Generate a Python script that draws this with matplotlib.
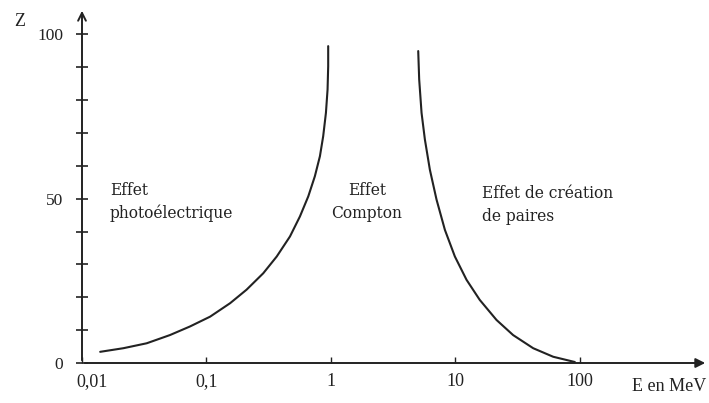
import numpy as np
import matplotlib
matplotlib.use("Agg")
import matplotlib.pyplot as plt
import matplotlib.transforms as mtransforms

# limite photoelectrique / Compton (courbe gauche)
E_gauche = [0.0140, 0.0215, 0.0331, 0.0509, 0.0736, 0.107, 0.155, 0.210, 0.286, 0.367,
            0.469, 0.564, 0.658, 0.743, 0.816, 0.867, 0.912, 0.940, 0.951, 0.951]
Z_gauche = [3.4, 4.5, 6.0, 8.5, 11.1, 14.1, 18.2, 22.3, 27.3, 32.4,
            38.5, 44.6, 50.7, 56.8, 62.9, 69.0, 76.1, 83.2, 90.3, 96.4]

# limite Compton / creation de paires (courbe droite)
E_droite = [5.03, 5.12, 5.35, 5.69, 6.24, 7.06, 8.24, 9.91, 12.3, 15.7,
            21.4, 29.1, 42.2, 61.1, 91.2]
Z_droite = [94.9, 86.3, 76.1, 68.0, 58.8, 49.7, 40.5, 32.4, 25.3, 19.2,
            13.1, 8.5, 4.5, 1.9, 0.3]

x_ticks = [0.01, 0.1, 1, 10, 100]
x_labels = ["0,01", "0,1", "1", "10", "100"]
y_ticks = list(range(0, 101, 10))
y_labels = ["0", "", "", "", "", "50", "", "", "", "", "100"]

plt.rcParams['font.family'] = ['Liberation Serif', 'DejaVu Serif']

fig = plt.figure(figsize=(7.09, 4.03), dpi=100)
ax = fig.add_axes([82/709, 40/403, 626/709, 355/403])

ax.plot(E_gauche, Z_gauche, color="#222222", lw=1.5, solid_joinstyle="round", solid_capstyle="round")
ax.plot(E_droite, Z_droite, color="#222222", lw=1.5, solid_joinstyle="round", solid_capstyle="round")

ax.set_xscale("log")
ax.set_xlim(0.01, 10**3.03)
ax.set_ylim(0, 108)

for s in ax.spines.values():
    s.set_visible(False)
# axes avec fleches
ax.annotate("", xy=(1, 0), xytext=(0, 0), xycoords="axes fraction",
            arrowprops=dict(arrowstyle="-|>", color="#222222", lw=1.4, mutation_scale=14))
ax.annotate("", xy=(0, 1), xytext=(0, 0), xycoords="axes fraction",
            arrowprops=dict(arrowstyle="->", color="#222222", lw=1.4, mutation_scale=14))

ax.set_xticks(x_ticks)
ax.set_xticklabels(x_labels)
ax.xaxis.set_minor_locator(matplotlib.ticker.NullLocator())
ax.tick_params(axis="x", direction="in", length=4, width=1, pad=7, labelsize=13, colors="#222222")
ax.set_yticks(y_ticks)
ax.set_yticklabels(y_labels)
ax.tick_params(axis="y", direction="inout", length=9, width=1.2, pad=9, labelsize=12.5, colors="#222222")

# le "0,01" est decale a droite de l'origine
lab0 = ax.get_xticklabels()[0]
lab0.set_transform(lab0.get_transform() + mtransforms.ScaledTranslation(10/100, 0, fig.dpi_scale_trans))

txt = dict(family=["DejaVu Serif"], fontsize=11.2, color="#222222", linespacing=1.45)
ax.text(0.0168, 49, "Effet\nphotoélectrique", ha="left", va="center", **txt)
ax.text(1.95, 49, "Effet\nCompton", ha="center", va="center", multialignment="center", **txt)
ax.text(16.3, 48, "Effet de création\nde paires", ha="left", va="center", **txt)

ax.text(-0.1, 104, "Z", transform=ax.get_yaxis_transform(), ha="center", va="center",
        fontsize=13, color="#222222")
ax.text(0.997, -7, "E en MeV", transform=ax.get_yaxis_transform(), ha="right", va="center",
        fontsize=13, color="#222222", clip_on=False)

fig.savefig("out.png", dpi=100)
